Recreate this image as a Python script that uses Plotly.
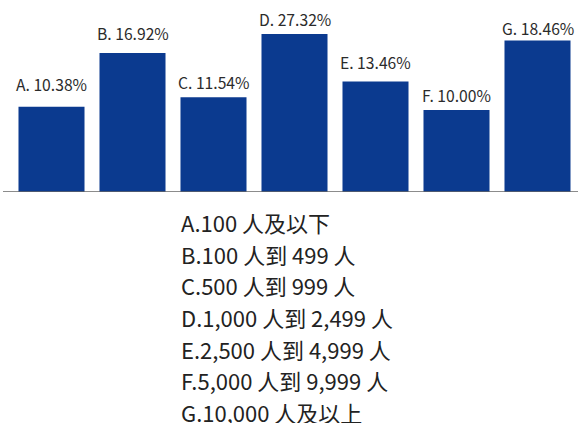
import plotly.graph_objects as go

# Company-size distribution
letters = ["A", "B", "C", "D", "E", "F", "G"]
shares = [10.38, 16.92, 11.54, 27.32, 13.46, 10.00, 18.46]
descriptions = [
    "100 人及以下",
    "100 人到 499 人",
    "500 人到 999 人",
    "1,000 人到 2,499 人",
    "2,500 人到 4,999 人",
    "5,000 人到 9,999 人",
    "10,000 人及以上",
]

# pixel offsets of the value labels above each bar
label_shift = [22, 20, 15, 15, 19, 14, 12]

W, H = 578, 423
TOP, BOTTOM_PX = 34, 192
Y_MAX = 19.24  # the tallest bar runs past the top of the plot area

BAR = "#0b3a8f"
FONT = "Noto Sans CJK TC, Noto Sans, sans-serif"

fig = go.Figure(
    go.Bar(
        x=letters,
        y=shares,
        marker=dict(color=BAR, line=dict(width=0)),
        cliponaxis=True,
        hoverinfo="skip",
    )
)

annotations = []
for i, (l, v) in enumerate(zip(letters, shares)):
    annotations.append(dict(
        x=l, y=min(v, Y_MAX), xref="x", yref="y",
        text=f"{l}. {v:.2f}%", showarrow=False,
        yanchor="middle", yshift=label_shift[i],
        font=dict(family=FONT, size=15.7, color="#2b2b2b"),
    ))

# category descriptions listed under the chart
plot_h = BOTTOM_PX - TOP
first_line_px, line_step = 222, 31.7
for i, (l, d) in enumerate(zip(letters, descriptions)):
    py = first_line_px + i * line_step
    annotations.append(dict(
        x=(179 - 11) / (W - 11), xref="paper", xanchor="left",
        y=(BOTTOM_PX - py) / plot_h, yref="paper", yanchor="middle",
        text=f"{l}.{d}", showarrow=False,
        font=dict(family=FONT, size=22, color="#222222"),
    ))

fig.update_layout(
    width=W, height=H,
    margin=dict(l=11, r=0, t=TOP, b=H - BOTTOM_PX, pad=0),
    paper_bgcolor="white", plot_bgcolor="white",
    bargap=0.185,
    showlegend=False,
    xaxis=dict(showticklabels=False, showgrid=False, zeroline=False,
               showline=False, ticks="", range=[-0.5, 6.5]),
    yaxis=dict(visible=False, range=[0, Y_MAX], showgrid=False, zeroline=False),
    annotations=annotations,
    shapes=[dict(type="line", xref="paper", yref="y",
                 x0=-8 / (W - 11), x1=1.0, y0=0, y1=0,
                 line=dict(color="#666666", width=1.5))],
)

fig.write_html("out.html")
